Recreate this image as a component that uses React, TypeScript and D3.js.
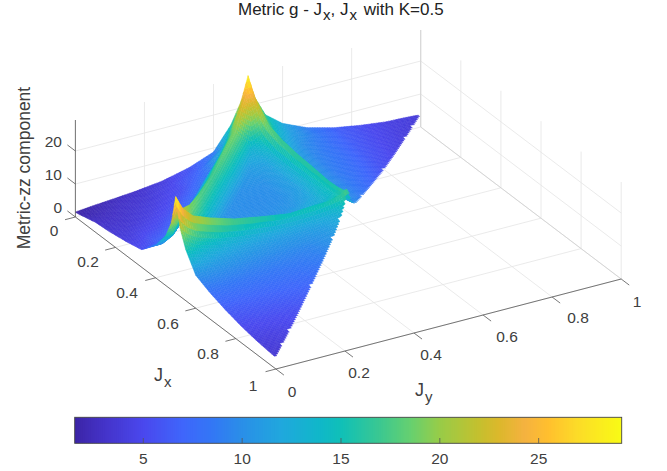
import React, { useMemo } from 'react';
import * as d3 from 'd3';

// Jx and Jy sample positions, tighter around the cusps at 0.5
const jGrid = [0, .02, .05, .1, .17, .25, .33, .4, .45, .48, .5, .52, .55, .6, .67, .75, .83, .9, .95, .98, 1];

// Metric-zz, one row per Jx in jGrid, columns are Jy (Jx + Jy <= 1)
const metricRows = [
  [1.5, 1.7, 2, 2.4, 3, 4, 6, 8.8, 15.6, 22, 29.2, 22, 16, 12, 8.8, 6.6, 5.2, 4.3, 4.1, 3.9, 3.7],
  [1.7, 1.9, 2.2, 2.7, 3.3, 4.4, 6.2, 9.5, 16, 25, 25, 20, 15, 11.5, 8.8, 6.6, 5.2, 4.3, 4.05, 3.8],
  [2.2, 2.2, 2.5, 3, 3.6, 4.9, 7.2, 12.5, 23.5, 21, 22.5, 18, 14, 11, 8.7, 6.5, 5.1, 4.25, 3.9],
  [3, 2.9, 3, 3.4, 4.2, 5.6, 8.8, 19.5, 13.5, 15, 19, 15, 12.5, 10, 8.3, 6.3, 4.9, 4.1],
  [3.4, 3.5, 3.6, 4.2, 5.3, 7.8, 18.5, 11, 11.5, 13.5, 17.5, 13.3, 11.2, 9.4, 8, 6, 4.6],
  [4.2, 4.3, 4.9, 5.6, 7.8, 17.5, 10, 10, 11.2, 13.4, 16.7, 12.3, 10.6, 9, 7.6, 5.5],
  [5.3, 5.7, 6.8, 8.4, 18, 10, 9.8, 10, 11.2, 13.5, 16.3, 11.8, 10.2, 8.8, 7],
  [9.8, 9.8, 11.5, 19.5, 11, 10, 10, 10.6, 12, 14.2, 15.8, 11.8, 10, 8.5],
  [15, 15.2, 22, 13, 11.5, 11.2, 11.2, 12, 12.8, 14.2, 16, 12, 9.8],
  [20.6, 25, 19.5, 14.5, 13.6, 13.4, 13.5, 14.2, 14.2, 15.3, 16.5, 12.5],
  [29.2, 25, 22, 20, 17.8, 16.3, 15, 15.2, 15.8, 16.5, 18],
  [21, 18.5, 16.5, 14.8, 13.5, 12.6, 12.4, 12.6, 13.2, 15],
  [15.5, 14.5, 13.3, 12.2, 11.4, 10.9, 10.8, 11.2, 12.5],
  [10, 10.3, 10.2, 10, 9.7, 9.5, 9.5, 10.5],
  [8, 8.1, 8.2, 8.2, 8.2, 8.3, 8.7],
  [6.3, 6.4, 6.5, 6.6, 6.8, 7],
  [5, 5.1, 5.2, 5.3, 5.5],
  [4.2, 4.25, 4.3, 4.5],
  [3.8, 3.85, 3.9],
  [3.6, 3.6],
  [3.5],
];

const jTicks = [0, .2, .4, .6, .8, 1];
const zTicks = [0, 10, 20];
const colorbarTicks = [5, 10, 15, 20, 25];
const colorDomain = [1.53, 3, 5, 7, 8.5, 10, 12, 14, 15, 17, 18.5, 20, 22, 23, 24.3, 25.5, 27, 29.2];
const colorRange = ['#3c25a6', '#4433c8', '#4a48ee', '#3f66fb', '#3377f5', '#2a8fe8', '#20a8dd', '#10b8c8', '#10c0b8',
  '#3cc890', '#66d070', '#98cc48', '#c5c02e', '#dcb82c', '#f5b240', '#ffc02e', '#fcdc28', '#f9fb15'];

const WIDTH = 667, HEIGHT = 471;
const FONT = '"Liberation Sans", Arial, sans-serif';
const TEXT = '#404040';
const Z_TOP = 29.4;

// orthographic view: each axis is a screen vector
const ORIGIN = [75.4, 217];
const jxToX = d3.scaleLinear().domain([0, 1]).range([0, 200.5]);
const jxToY = d3.scaleLinear().domain([0, 1]).range([0, 152]);
const jyToX = d3.scaleLinear().domain([0, 1]).range([0, 345.3]);
const jyToY = d3.scaleLinear().domain([0, 1]).range([0, -90]);
const zToY = d3.scaleLinear().domain([0, Z_TOP]).range([0, -97]);

const project = (jx: number, jy: number, z: number): [number, number] => [
  ORIGIN[0] + jxToX(jx) + jyToX(jy),
  ORIGIN[1] + jxToY(jx) + jyToY(jy) + zToY(z),
];

const color = d3.scaleLinear<string>().domain(colorDomain).range(colorRange).clamp(true);
const colorbarX = d3.scaleLinear().domain([1.53, 29.2]).range([74.7, 621.7]);

const cellIndex = d3.bisector((d: number) => d).right;

// shading inside a mesh triangle, like shading interp
function heightAt(jx: number, jy: number) {
  const i = Math.min(19, cellIndex(jGrid, jx + 1e-9) - 1);
  const j = Math.min(19, cellIndex(jGrid, jy + 1e-9) - 1);
  const u = (jx - jGrid[i]) / (jGrid[i + 1] - jGrid[i]);
  const v = (jy - jGrid[j]) / (jGrid[j + 1] - jGrid[j]);
  const at = (a: number, b: number) => metricRows[a][b];
  if (u + v <= 1 + 1e-9) {
    return at(i, j) * (1 - u - v) + at(i + 1, j) * u + at(i, j + 1) * v;
  }
  return at(i + 1, j + 1) * (u + v - 1) + at(i + 1, j) * (1 - v) + at(i, j + 1) * (1 - u);
}

const STEPS = 140;

function buildCells() {
  const cells: { d: string; fill: string }[] = [];
  // far corner first: low Jx, high Jy
  for (let a = 0; a < STEPS; a++) {
    for (let b = STEPS - 1 - a - 1; b >= 0; b--) {
      const corners = [[a, b], [a + 1, b], [a + 1, b + 1], [a, b + 1]].map(([p, q]) => {
        const jx = p / STEPS, jy = q / STEPS;
        return { jx, jy, z: heightAt(jx, jy) };
      });
      const pts = corners.map(c => project(c.jx, c.jy, c.z));
      cells.push({
        d: d3.line()(pts) + 'Z',
        fill: color(d3.mean(corners, c => c.z) as number),
      });
    }
  }
  return cells;
}

const seg = (a: [number, number], b: [number, number], stroke: string, w = 0.8) => (
  <line x1={a[0]} y1={a[1]} x2={b[0]} y2={b[1]} stroke={stroke} strokeWidth={w} />
);

export default function App() {
  const cells = useMemo(buildCells, []);
  const grid = '#e4e4e4';
  const wall = '#cfcfcf';
  const axis = '#555555';

  const jxLabelPos = [[54, 230], [88, 261], [127, 292], [168, 323], [208, 353], [253, 385]];
  const jyLabelPos = [[292, 391], [359, 372], [431, 354], [507, 336], [578, 317], [637, 301]];

  return (
    <svg width={WIDTH} height={HEIGHT} style={{ position: 'absolute', left: 0, top: 0, background: '#fff' }} fontFamily={FONT}>
      <defs>
        <filter id="soft" x="-5%" y="-5%" width="110%" height="110%">
          <feGaussianBlur stdDeviation="0.45" />
        </filter>
      </defs>
      {/* floor and back walls */}
      {jTicks.map(t => (
        <g key={t}>
          {seg(project(t, 0, 0), project(t, 1, 0), grid)}
          {seg(project(0, t, 0), project(1, t, 0), grid)}
          {seg(project(t, 1, 0), project(t, 1, Z_TOP), grid)}
          {seg(project(0, t, 0), project(0, t, Z_TOP), grid)}
        </g>
      ))}
      {zTicks.slice(1).map(t => (
        <g key={t}>
          {seg(project(0, 0, t), project(0, 1, t), grid)}
          {seg(project(0, 1, t), project(1, 1, t), grid)}
        </g>
      ))}
      {seg(project(0, 1, 0), project(1, 1, 0), wall)}
      {seg(project(0, 1, 0), project(0, 1, Z_TOP), wall)}

      {/* surface */}
      <g filter="url(#soft)">
        {cells.map((c, i) => <path key={i} d={c.d} fill={c.fill} stroke={c.fill} strokeWidth={0.5} />)}
      </g>

      {/* axes */}
      {seg(project(0, 0, 0), project(0, 0, Z_TOP), axis)}
      {seg(project(0, 0, 0), project(1, 0, 0), axis)}
      {seg(project(1, 0, 0), project(1, 1, 0), axis)}
      {jTicks.map((t, k) => (
        <g key={t}>
          {seg(project(t, 0, 0), project(t, -0.03, 0), axis)}
          {seg(project(1, t, 0), project(1.04, t, 0), axis)}
          <text x={jxLabelPos[k][0]} y={jxLabelPos[k][1]} fontSize={15.5} fill={TEXT} textAnchor="middle" dominantBaseline="central">{d3.format('')(t)}</text>
          <text x={jyLabelPos[k][0]} y={jyLabelPos[k][1]} fontSize={15.5} fill={TEXT} textAnchor="middle" dominantBaseline="central">{d3.format('')(t)}</text>
        </g>
      ))}
      {zTicks.map(t => (
        <g key={t}>
          {seg(project(0, 0, t), project(-0.04, 0, t), axis)}
          <text x={62} y={project(0, 0, t)[1] - 10} fontSize={15.5} fill={TEXT} textAnchor="end" dominantBaseline="central">{t}</text>
        </g>
      ))}

      {/* labels */}
      <text x={238} y={15} fontSize={17} fill="#222">
        Metric g - J<tspan dx={1} dy={5} fontSize={15}>x</tspan><tspan dy={-5}>, J</tspan><tspan dx={1} dy={5} fontSize={15}>x</tspan><tspan dx={2} dy={-5}> with K=0.5</tspan>
      </text>
      <text transform="translate(30,168) rotate(-90)" fontSize={17.5} fill={TEXT} textAnchor="middle">Metric-zz component</text>
      <text x={154} y={381} fontSize={18} fill={TEXT}>J<tspan dx={1} dy={6} fontSize={15}>x</tspan></text>
      <text x={415} y={396} fontSize={18} fill={TEXT}>J<tspan dx={1} dy={6} fontSize={15}>y</tspan></text>

      {/* colorbar */}
      {d3.range(74.7, 621.7, 2).map(x => (
        <rect key={x} x={x} y={417.3} width={Math.min(2.4, 621.7 - x)} height={26} fill={color(colorbarX.invert(x + 1))} />
      ))}
      <rect x={74.7} y={417.3} width={547} height={26} fill="none" stroke="#444" strokeWidth={0.9} />
      {colorbarTicks.map(t => (
        <g key={t}>
          {seg([colorbarX(t), 443.3], [colorbarX(t), 438], axis)}
          <text x={colorbarX(t)} y={458} fontSize={15.5} fill={TEXT} textAnchor="middle" dominantBaseline="central">{t}</text>
        </g>
      ))}
    </svg>
  );
}
